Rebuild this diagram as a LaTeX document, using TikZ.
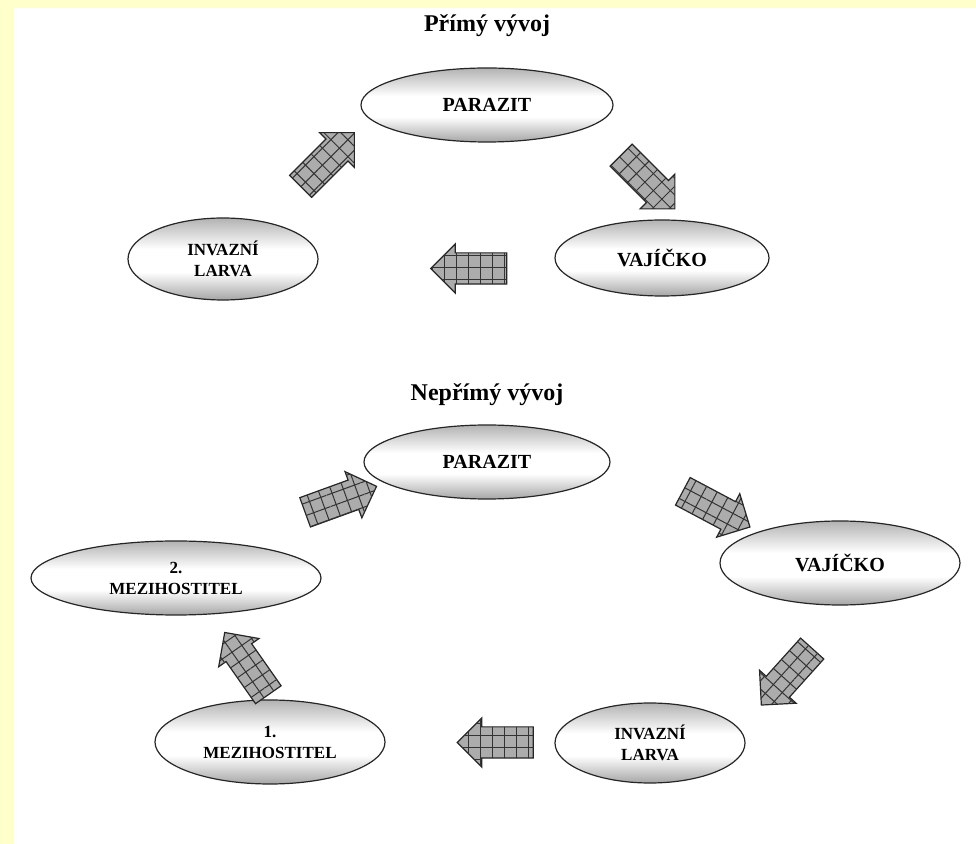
\documentclass[tikz,border=0pt]{standalone}
\usepackage{fontspec}
\setmainfont{Liberation Serif}
\usetikzlibrary{shapes.geometric,shapes.arrows,patterns.meta,calc,positioning}
\definecolor{paper}{RGB}{255,255,204}
\pgfdeclareverticalshading{eggshade}{100bp}{color(0bp)=(gray!75); color(25bp)=(gray!70); color(42bp)=(white); color(56bp)=(white); color(75bp)=(gray!60); color(100bp)=(gray!60)}

\begin{document}
\begin{tikzpicture}[
    x=0.5pt, y=-0.5pt,
    every node/.style={font=\bfseries},
    egg/.style={ellipse, draw=black!85, line width=0.6pt, shading=eggshade, align=center, inner sep=0pt},
    big/.style={font=\bfseries\fontsize{10}{11}\selectfont},
    small/.style={font=\bfseries\fontsize{8.5}{10.5}\selectfont},
    title/.style={font=\bfseries\fontsize{12}{14}\selectfont},
    garrow/.style={single arrow, draw=black!85, line width=0.6pt, fill=gray!65,
        minimum height=38pt, minimum width=24pt, single arrow head extend=4.5pt,
        inner xsep=0pt, inner ysep=7.5pt, rotate=#1,
        postaction={pattern={Lines[angle=#1, distance=6pt, line width=0.5pt]}, pattern color=black!80},
        postaction={pattern={Lines[angle=#1+90, distance=6pt, line width=0.5pt]}, pattern color=black!80}},
]
    \fill[paper] (0,0) rectangle (976,844);
    \fill[white] (14,8) rectangle (976,844);
    \useasboundingbox (0,0) rectangle (976,844);

    % direct development
    \node[egg, big, minimum width=126pt, minimum height=37pt] (par1) at (487,105) {PARAZIT};
    \node[egg, big, minimum width=107pt, minimum height=38pt] (vaj1) at (662,258) {VAJÍČKO};
    \node[egg, small, minimum width=95pt, minimum height=41pt] (inv1) at (223,259) {INVAZNÍ\\LARVA};
    \node[title, above=12pt of par1] (tit1) {Přímý vývoj};

    \node[garrow=45] (a1) at ($(inv1)!0.5!(par1)+(-33,-17)$) {};
    \node[garrow=-45] (a2) at ($(par1)!0.5!(vaj1)+(68,-5)$) {};
    \node[garrow=180] (a3) at ($(vaj1)!0.5!(inv1)+(34,10)$) {};

    % indirect development
    \node[egg, big, minimum width=123pt, minimum height=37pt] (par2) at (487,462) {PARAZIT};
    \node[egg, big, minimum width=120pt, minimum height=42pt] (vaj2) at (840,563) {VAJÍČKO};
    \node[egg, small, minimum width=95pt, minimum height=40pt] (inv2) at (650,743) {INVAZNÍ\\LARVA};
    \node[egg, small, minimum width=115pt, minimum height=42pt] (mez1) at (270,742) {1.\\MEZIHOSTITEL};
    \node[egg, small, minimum width=145pt, minimum height=37pt] (mez2) at (176,578) {2.\\MEZIHOSTITEL};
    \node[title, above=6pt of par2] (tit2) {Nepřímý vývoj};

    \node[garrow=20] (b1) at ($(mez2)!0.5!(par2)+(2,-18)$) {};
    \node[garrow=-28] (b2) at ($(par2)!0.5!(vaj2)+(46,-7)$) {};
    \node[garrow=-132] (b3) at ($(vaj2)!0.5!(inv2)+(47,18)$) {};
    \node[garrow=180] (b4) at ($(inv2)!0.5!(mez1)+(43,0)$) {};
    \node[garrow=125] (b5) at ($(mez1)!0.5!(mez2)+(28,10)$) {};
\end{tikzpicture}
\end{document}
